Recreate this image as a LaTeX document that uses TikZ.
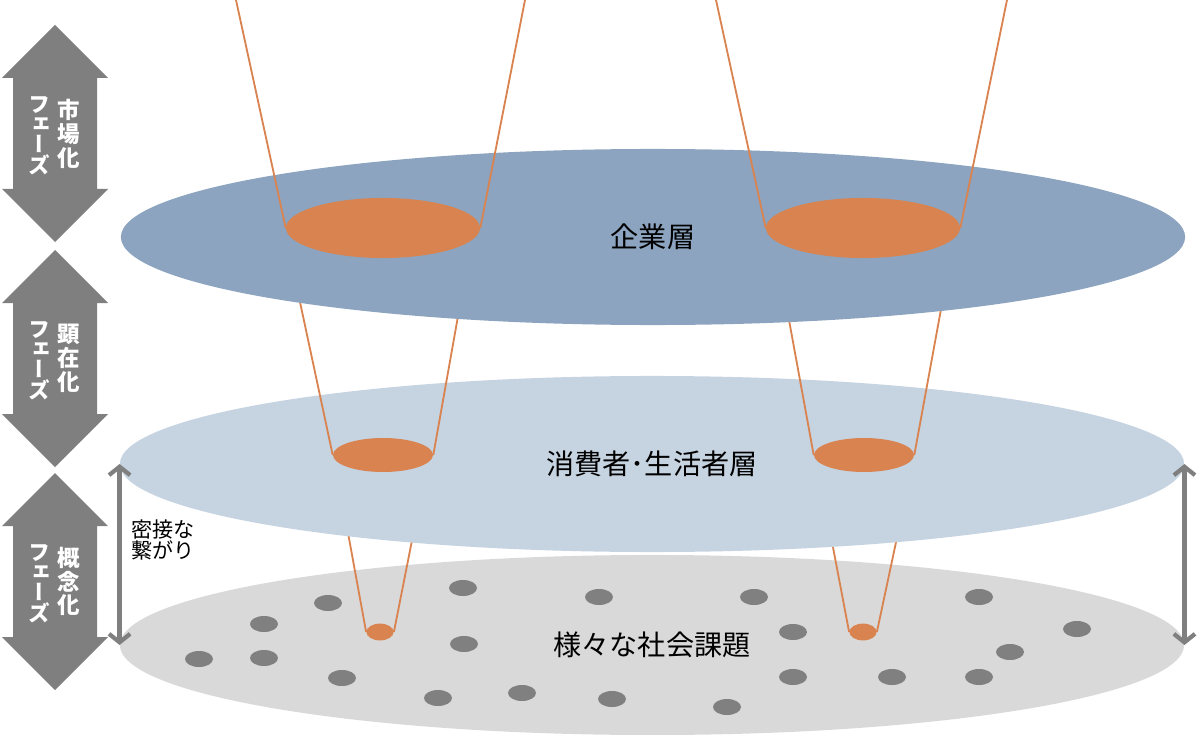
\documentclass[tikz,border=0pt]{standalone}
\usepackage{fontspec}
\setmainfont{Noto Sans CJK JP}
\newfontfamily\vertfont[RawFeature=+vert]{Noto Sans CJK JP}
\usetikzlibrary{shapes.geometric, arrows.meta, positioning, calc}
\definecolor{firmblue}{RGB}{140,164,191}
\definecolor{lifeblue}{RGB}{198,211,224}
\definecolor{issuegray}{RGB}{217,217,217}
\definecolor{seedorange}{RGB}{217,131,80}
\definecolor{dotgray}{RGB}{128,128,128}
\definecolor{phasegray}{RGB}{127,127,127}

\begin{document}
\begin{tikzpicture}[
    x=0.025cm, y=-0.025cm,
    layer/.style={ellipse, inner sep=0pt, minimum width=26.6cm, minimum height=4.4cm,
                  font=\fontsize{20}{24}\selectfont},
    seed/.style={ellipse, fill=seedorange, inner sep=0pt},
    funnel/.style={draw=seedorange, line width=1.3pt},
    issue/.style={ellipse, fill=dotgray, inner sep=0pt,
                  minimum width=0.7cm, minimum height=0.4cm},
    phase/.style={text=white, align=center, inner sep=0pt},
    link/.style={{Straight Barb[length=6pt,width=15pt]}-{Straight Barb[length=6pt,width=15pt]},
                 line width=3pt, phasegray},
  ]
  \useasboundingbox (0,0) rectangle (1203,735);

  % phase arrows on the left
  \foreach \t/\b/\nm/\kanji in {25/242/market/{市\\場\\化}, 250/467/reveal/{顕\\在\\化}, 473/690/concept/{概\\念\\化}}{
    \fill[phasegray] (55,\t) -- (108,\t+53) -- (97,\t+53) -- (97,\b-53) -- (108,\b-53)
      -- (55,\b) -- (2,\b-53) -- (13,\b-53) -- (13,\t+53) -- (2,\t+53) -- cycle;
    \node[phase, font=\vertfont\bfseries\fontsize{15.5}{14.5}\selectfont] (\nm-kana) at (39,{(\t+\b)/2+2}) {フ\\ェ\\ー\\ズ};
    \node[phase, font=\vertfont\bfseries\fontsize{16}{17}\selectfont] (\nm-kanji) at (69,{(\t+\b)/2}) {\kanji};
  }

  % bottom layer
  \node[layer, fill=issuegray, minimum height=4.5cm] (issues) at (652,645) {様々な社会課題};
  \foreach \x/\y [count=\i] in {463/588, 328/603, 599/597, 264/624, 464/644, 199/659, 264/658,
      342/678, 438/698, 522/693, 612/699, 754/597, 979/597, 793/632, 1077/629, 1010/652,
      793/677, 892/677, 979/677, 727/707}
    \node[issue] (dot\i) at (\x,\y) {};
  \node[seed, minimum width=0.68cm, minimum height=0.42cm] (seedL3) at (380,632) {};
  \node[seed, minimum width=0.68cm, minimum height=0.42cm] (seedR3) at (863,632) {};
  \coordinate (upL3a) at (342,500);
  \coordinate (upL3b) at (420,500);
  \coordinate (upR3a) at (824,500);
  \coordinate (upR3b) at (905,500);
  \draw[funnel] (upL3a) -- (seedL3.west);
  \draw[funnel] (upL3b) -- (seedL3.east);
  \draw[funnel] (upR3a) -- (seedR3.west);
  \draw[funnel] (upR3b) -- (seedR3.east);

  % middle layer
  \node[layer, fill=lifeblue] (consumer) at (652,464) {消費者･生活者層};
  \node[seed, minimum width=2.5cm, minimum height=0.85cm] (seedL2) at (383,455) {};
  \node[seed, minimum width=2.5cm, minimum height=0.85cm] (seedR2) at (864,455) {};
  \coordinate (upL2a) at (291,260);
  \coordinate (upL2b) at (468,260);
  \coordinate (upR2a) at (778,260);
  \coordinate (upR2b) at (950,260);
  \draw[funnel] (upL2a) -- (seedL2.west);
  \draw[funnel] (upL2b) -- (seedL2.east);
  \draw[funnel] (upR2a) -- (seedR2.west);
  \draw[funnel] (upR2b) -- (seedR2.east);

  % top layer
  \node[layer, fill=firmblue] (firms) at (653,237) {企業層};
  \node[seed, minimum width=4.85cm, minimum height=1.5cm] (seedL1) at (383,228) {};
  \node[seed, minimum width=4.85cm, minimum height=1.5cm] (seedR1) at (863,228) {};
  \coordinate (upL1a) at (236,0);
  \coordinate (upL1b) at (525,0);
  \coordinate (upR1a) at (716,0);
  \coordinate (upR1b) at (1007,0);
  \draw[funnel] (upL1a) -- (seedL1.west);
  \draw[funnel] (upL1b) -- (seedL1.east);
  \draw[funnel] (upR1a) -- (seedR1.west);
  \draw[funnel] (upR1b) -- (seedR1.east);

  % close link between consumers and issues
  \draw[link] (consumer.west) -- (issues.west);
  \draw[link] (consumer.east) -- (issues.east);
  \node[font=\fontsize{15}{14.5}\selectfont, align=left, anchor=west, inner sep=0pt] (closeLink) at (131,540) {密接な\\繋がり};
\end{tikzpicture}
\end{document}
